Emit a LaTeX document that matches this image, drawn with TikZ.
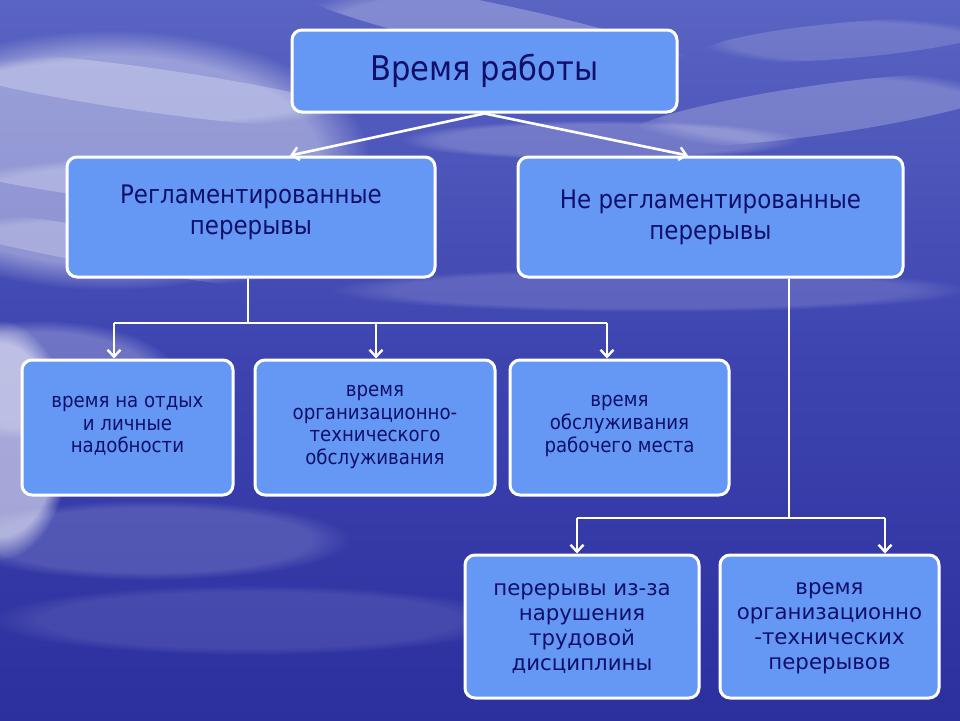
\documentclass[tikz,border=0pt]{standalone}
\usepackage{fontspec}
\setmainfont{DejaVu Sans}
\newfontfamily\condfont{DejaVu Sans Condensed}
\usetikzlibrary{arrows.meta,fadings}
\definecolor{boxfill}{HTML}{6598F4}
\definecolor{txt}{HTML}{10106A}
\definecolor{bgtop}{HTML}{5A64C2}
\definecolor{bgmid}{HTML}{3D44B0}
\definecolor{bgbot}{HTML}{2C2F9E}
\tikzset{
  box/.style={draw=white, line width=3pt, fill=boxfill, rounded corners=10pt, inner sep=0pt},
  lbl/.style={text=txt, align=center, inner sep=0pt},
  conn/.style={draw=white, line width=2.6pt},
  arr/.style={conn, -{Straight Barb[length=7pt,width=13pt,line width=2.4pt]}},
  cloud/.style={fill=white, path fading=circle with fuzzy edge 20 percent},
}
\begin{document}
\begin{tikzpicture}[x=1pt,y=-1pt]
\useasboundingbox (0,0) rectangle (960,720);
% background
\shade[top color=bgtop, bottom color=bgbot, middle color=bgmid] (0,0) rectangle (960,720);
\fill[cloud, opacity=0.40] (110,160) ellipse (260 and 130);
\fill[cloud, opacity=0.25, rotate around={-8:(150,90)}] (150,90) ellipse (230 and 22);
\fill[cloud, opacity=0.25, rotate around={-6:(200,190)}] (200,190) ellipse (260 and 20);
\fill[cloud, opacity=0.22, rotate around={-10:(120,250)}] (120,250) ellipse (220 and 18);
\fill[cloud, opacity=0.25, rotate around={-12:(500,30)}] (500,30) ellipse (220 and 25);
\fill[cloud, opacity=0.22, rotate around={8:(820,110)}] (820,110) ellipse (200 and 25);
\fill[cloud, opacity=0.15, rotate around={5:(850,40)}] (850,40) ellipse (150 and 18);
\fill[cloud, opacity=0.20] (600,140) ellipse (200 and 20);
\fill[cloud, opacity=0.15] (650,290) ellipse (320 and 22);
\fill[cloud, opacity=0.55] (0,440) ellipse (70 and 120);
\fill[cloud, opacity=0.25] (40,380) ellipse (140 and 60);
\fill[cloud, opacity=0.15] (150,540) ellipse (200 and 40);
\fill[cloud, opacity=0.10] (250,620) ellipse (260 and 35);
% boxes
\node[box, minimum width=385, minimum height=82] (top) at (484.5,71) {};
\node[lbl, font=\condfont\fontsize{34}{36}\selectfont] (toptxt) at (484.5,71) {Время работы};
\node[box, minimum width=368, minimum height=120] (reg) at (251,217) {};
\node[lbl, font=\condfont\fontsize{25.5}{31}\selectfont] (regtxt) at (251,212) {Регламентированные\\перерывы};
\node[box, minimum width=385, minimum height=120] (nreg) at (710.5,217) {};
\node[lbl, font=\condfont\fontsize{25.5}{31}\selectfont] (nregtxt) at (710.5,217) {Не регламентированные\\перерывы};
\node[box, minimum width=211, minimum height=135] (r1) at (127.5,427.5) {};
\node[lbl, font=\condfont\fontsize{20.2}{22.6}\selectfont] (r1t) at (127.5,426) {время на отдых\\и личные\\надобности};
\node[box, minimum width=240, minimum height=135] (r2) at (375,427.5) {};
\node[lbl, font=\condfont\fontsize{20.2}{22.6}\selectfont] (r2t) at (375,427) {время\\организационно-\\технического\\обслуживания};
\node[box, minimum width=219, minimum height=135] (r3) at (619.5,427.5) {};
\node[lbl, font=\condfont\fontsize{20.2}{22.6}\selectfont] (r3t) at (619.5,426) {время\\обслуживания\\рабочего места};
\node[box, minimum width=234, minimum height=143] (b1) at (582,626.5) {};
\node[lbl, font=\fontsize{21.3}{25}\selectfont] (b1t) at (582,628) {перерывы из-за\\нарушения\\трудовой\\дисциплины};
\node[box, minimum width=219, minimum height=143] (b2) at (829.5,626.5) {};
\node[lbl, font=\fontsize{21.3}{25}\selectfont] (b2t) at (829.5,628) {время\\организационно\\-технических\\перерывов};
% connectors
\draw[arr] (top.south) -- (reg.north -| 290,0);
\draw[arr] (top.south) -- (nreg.north -| 688,0);
\coordinate (j1) at (248,323);
\coordinate (j2) at (789,518);
\draw[conn] (reg.south -| j1) -- (j1);
\draw[conn] (114,323) -- (607,323);
\draw[arr] (114,323) -- (r1.north -| 114,0);
\draw[arr] (376,323) -- (r2.north -| 376,0);
\draw[arr] (607,323) -- (r3.north -| 607,0);
\draw[conn] (nreg.south -| j2) -- (j2);
\draw[conn] (577,518) -- (885,518);
\draw[arr] (577,518) -- (b1.north -| 577,0);
\draw[arr] (885,518) -- (b2.north -| 885,0);
\end{tikzpicture}
\end{document}
